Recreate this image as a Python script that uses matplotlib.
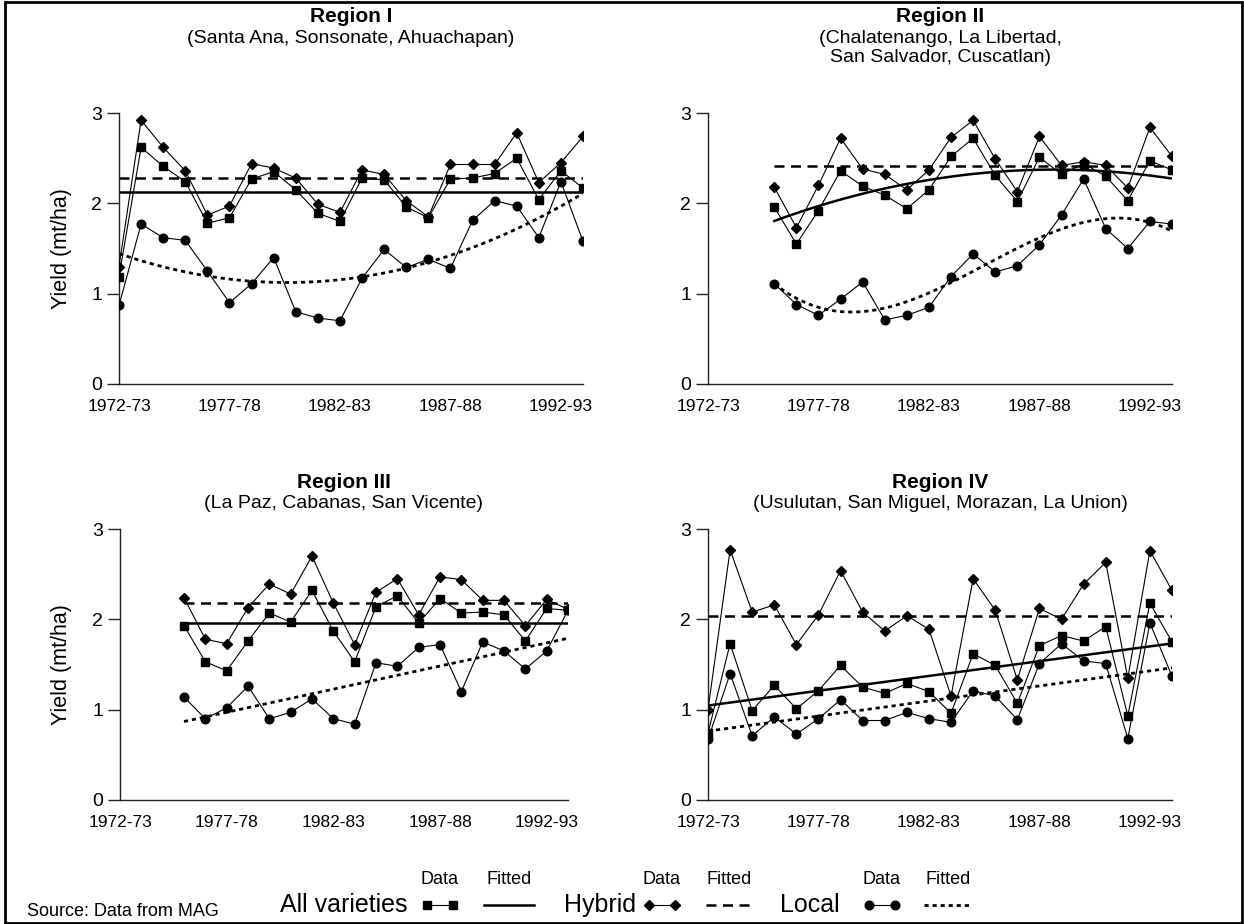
import numpy as np
import matplotlib.pyplot as plt
from matplotlib.patches import Rectangle

plt.rcParams['font.family'] = ['Liberation Sans', 'DejaVu Sans']

# first year of each crop season, 1972-73 .. 1993-94
years = list(range(1972, 1994))
tick_years = [1972, 1977, 1982, 1987, 1992]
tick_labels = ['1972-73', '1977-78', '1982-83', '1987-88', '1992-93']

region_names = ['Region I', 'Region II', 'Region III', 'Region IV']
region_depts = ['(Santa Ana, Sonsonate, Ahuachapan)',
                '(Chalatenango, La Libertad,\nSan Salvador, Cuscatlan)',
                '(La Paz, Cabanas, San Vicente)',
                '(Usulutan, San Miguel, Morazan, La Union)']
start_years = [1972, 1975, 1975, 1972]

# yields (mt/ha)
all_1 = [1.19, 2.62, 2.41, 2.24, 1.78, 1.84, 2.27, 2.35, 2.15, 1.89, 1.80,
         2.28, 2.26, 1.96, 1.84, 2.27, 2.28, 2.33, 2.50, 2.04, 2.36, 2.17]
hyb_1 = [1.30, 2.92, 2.62, 2.36, 1.87, 1.97, 2.44, 2.39, 2.28, 1.99, 1.90,
         2.37, 2.32, 2.03, 1.85, 2.43, 2.43, 2.43, 2.78, 2.23, 2.45, 2.74]
loc_1 = [0.87, 1.77, 1.62, 1.59, 1.25, 0.90, 1.11, 1.40, 0.80, 0.73, 0.70,
         1.17, 1.49, 1.29, 1.38, 1.28, 1.81, 2.03, 1.97, 1.62, 2.24, 1.58]

all_2 = [1.96, 1.55, 1.92, 2.36, 2.19, 2.09, 1.94, 2.15, 2.52, 2.72, 2.31,
         2.02, 2.51, 2.32, 2.44, 2.30, 2.03, 2.47, 2.37]
hyb_2 = [2.18, 1.73, 2.20, 2.72, 2.38, 2.32, 2.15, 2.37, 2.73, 2.92, 2.49,
         2.13, 2.74, 2.42, 2.46, 2.42, 2.17, 2.84, 2.52]
loc_2 = [1.11, 0.88, 0.76, 0.94, 1.13, 0.71, 0.76, 0.85, 1.19, 1.44, 1.24,
         1.31, 1.54, 1.87, 2.27, 1.72, 1.50, 1.80, 1.77]

all_3 = [1.93, 1.53, 1.43, 1.76, 2.07, 1.97, 2.32, 1.87, 1.53, 2.14, 2.26,
         1.96, 2.23, 2.07, 2.08, 2.05, 1.76, 2.12, 2.10]
hyb_3 = [2.24, 1.78, 1.73, 2.13, 2.39, 2.28, 2.70, 2.18, 1.72, 2.30, 2.45,
         2.05, 2.47, 2.44, 2.21, 2.21, 1.93, 2.22, 2.11]
loc_3 = [1.14, 0.90, 1.02, 1.26, 0.90, 0.97, 1.12, 0.90, 0.84, 1.52, 1.48,
         1.69, 1.72, 1.20, 1.75, 1.65, 1.45, 1.65, 2.10]

all_4 = [0.74, 1.73, 0.99, 1.27, 1.01, 1.21, 1.49, 1.25, 1.18, 1.29, 1.20,
         0.96, 1.62, 1.49, 1.07, 1.71, 1.82, 1.76, 1.92, 0.93, 2.18, 1.75]
hyb_4 = [1.00, 2.77, 2.08, 2.16, 1.72, 2.05, 2.54, 2.08, 1.87, 2.04, 1.89,
         1.15, 2.45, 2.10, 1.33, 2.12, 2.00, 2.39, 2.63, 1.35, 2.76, 2.32]
loc_4 = [0.67, 1.40, 0.71, 0.92, 0.73, 0.90, 1.11, 0.88, 0.88, 0.97, 0.90,
         0.86, 1.21, 1.15, 0.89, 1.51, 1.73, 1.54, 1.51, 0.68, 1.96, 1.37]

series = [(all_1, hyb_1, loc_1), (all_2, hyb_2, loc_2),
          (all_3, hyb_3, loc_3), (all_4, hyb_4, loc_4)]
# polynomial degree of the fitted trend: all varieties, hybrid, local
fit_degree = [(0, 0, 2), (2, 0, 3), (0, 0, 1), (1, 0, 1)]

styles = [dict(marker='s', ms=6.2), dict(marker='D', ms=4.6), dict(marker='o', ms=6.2)]
fit_styles = [dict(ls='-', lw=1.8),
              dict(ls=(0, (4.0, 2.6)), lw=1.8),
              dict(ls=(0, (1.5, 1.4)), lw=2.0)]

W, H = 1244, 924
fig = plt.figure(figsize=(W / 100, H / 100), dpi=100)

# axes boxes in pixels: left, top, right, bottom
boxes = [(119, 113, 583, 384), (708, 113, 1172, 384),
         (120, 529, 568, 800), (708, 529, 1172, 800)]
title_y = [(17, 30), (17, 30), (482, 495), (482, 495)]

for k in range(4):
    l, t, r, b = boxes[k]
    ax = fig.add_axes([l / W, 1 - b / H, (r - l) / W, (b - t) / H])
    x = np.arange(start_years[k], 1994)
    for j in range(3):
        y = np.array(series[k][j])
        c = np.polyfit(x - 1972, y, fit_degree[k][j])
        xs = np.linspace(x[0], x[-1], 200)
        ax.plot(xs, np.polyval(c, xs - 1972), color='black', zorder=2, **fit_styles[j])
    for j in [2, 0, 1]:
        ax.plot(x, series[k][j], color='black', lw=0.8, mfc='black', mec='black',
                zorder=3, **styles[j])
    ax.set_xlim(1972, 1993)
    ax.set_ylim(0, 3)
    ax.spines['top'].set_visible(False)
    ax.spines['right'].set_visible(False)
    for s in ['left', 'bottom']:
        ax.spines[s].set_color('#222222')
        ax.spines[s].set_linewidth(1.0)
    ax.set_yticks([0, 1, 2, 3])
    ax.set_xticks(tick_years)
    ax.set_xticklabels(tick_labels)
    ax.tick_params(axis='y', length=9, width=1, direction='out', pad=3,
                   labelsize=14, color='#222222')
    ax.tick_params(axis='x', length=0, pad=11, labelsize=12.5)
    if k in (0, 2):
        ax.set_ylabel('Yield (mt/ha)', fontsize=15.5)
        ax.yaxis.set_label_coords(-(l - 72) / (r - l), 0.5)
    cx = (l + r) / 2 / W
    fig.text(cx, 1 - title_y[k][0] / H, region_names[k], ha='center', va='center',
             fontsize=15, fontweight='bold')
    fig.text(cx, 1 - title_y[k][1] / H, region_depts[k], ha='center', va='top',
             fontsize=14, linespacing=1.15)

# legend drawn in pixel space of the whole figure
lax = fig.add_axes([0, 0, 1, 1], zorder=-1)
lax.set_xlim(0, W)
lax.set_ylim(H, 0)
lax.axis('off')

leg_names = ['All varieties', 'Hybrid', 'Local']
name_right = [408, 636, 840]
mark_x = [440, 662, 882]
fit_x = [(484, 534), (706, 752), (924, 972)]
row_y, head_y = 905, 880
for j in range(3):
    lax.text(name_right[j], row_y, leg_names[j], ha='right', va='center', fontsize=18)
    lax.plot([mark_x[j] - 13, mark_x[j] + 13], [row_y, row_y], color='black', lw=0.8,
             mfc='black', mec='black', **styles[j])
    lax.plot(list(fit_x[j]), [row_y, row_y], color='black', **fit_styles[j])
    lax.text(mark_x[j], head_y, 'Data', ha='center', va='center', fontsize=13)
    lax.text(sum(fit_x[j]) / 2, head_y, 'Fitted', ha='center', va='center', fontsize=13)
lax.text(27, 912, 'Source: Data from MAG', ha='left', va='center', fontsize=13)

fig.patches.append(Rectangle((5 / W, 1 / H), (W - 7) / W, (H - 3) / H, fill=False,
                             edgecolor='black', lw=2, transform=fig.transFigure))

fig.savefig('out.png', dpi=100)
